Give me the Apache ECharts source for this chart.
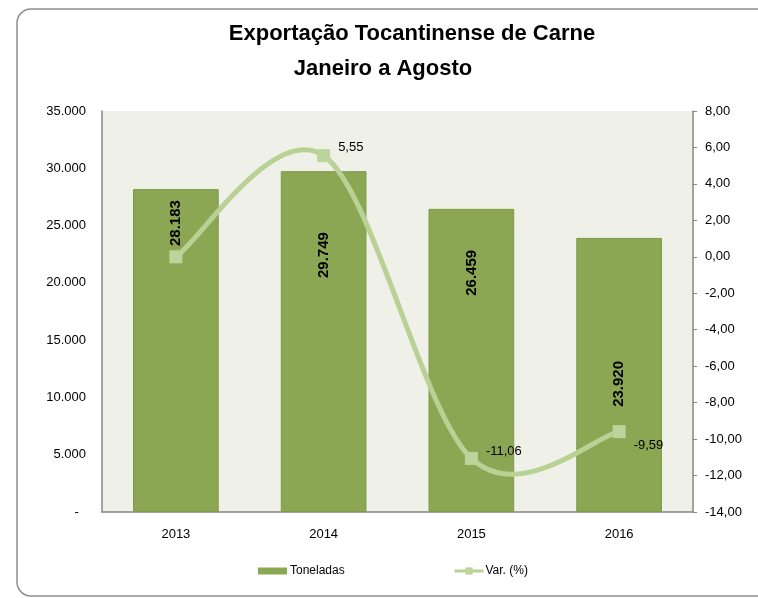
<!DOCTYPE html>
<html>
<head>
<meta charset="utf-8">
<script src="https://cdn.jsdelivr.net/npm/echarts@6/dist/echarts.min.js"></script>
<style>
  html, body { margin: 0; padding: 0; background: #fff; }
  #chart { width: 758px; height: 598px; }
</style>
</head>
<body>
<div id="chart"></div>
<script>
// dados do grafico
var anos = ['2013', '2014', '2015', '2016'];
var toneladas = [28183, 29749, 26459, 23920];
var variacao = [0.00, 5.55, -11.06, -9.59];

var FONT = '"Liberation Sans", Arial, sans-serif';
var corBarra = '#8BA753';
var corLinha = '#B9D194';

// distancia do rotulo ao topo da barra (como no Excel)
var distRotulo = [11, 61, 41, 123];
// deslocamento dos rotulos da linha
var offRotulo = [null, [0, -8], [0, -7], [0, 14]];

function fmtMil(v) {
    if (v === 0) return '-  ';
    return String(v).replace(/\B(?=(\d{3})+(?!\d))/g, '.');
}
function fmtVar(v) {
    return v.toFixed(2).replace('.', ',');
}

var barData = toneladas.map(function (v, i) {
    return { value: v, label: { distance: distRotulo[i] } };
});
var lineData = variacao.map(function (v, i) {
    if (!offRotulo[i]) return { value: v, label: { show: false } };
    return { value: v, label: { show: true, offset: offRotulo[i] } };
});

// curva suavizada tipo Excel (Catmull-Rom) desenhada segmento a segmento
function curvaExcel(params, api) {
    var i = params.dataIndex;
    var n = variacao.length;
    if (i >= n - 1) return null;
    function pt(k) {
        k = Math.max(0, Math.min(n - 1, k));
        return api.coord([k, variacao[k]]);
    }
    var p0 = pt(i - 1), p1 = pt(i), p2 = pt(i + 1), p3 = pt(i + 2);
    return {
        type: 'bezierCurve',
        shape: {
            x1: p1[0], y1: p1[1],
            cpx1: p1[0] + (p2[0] - p0[0]) / 6, cpy1: p1[1] + (p2[1] - p0[1]) / 6,
            cpx2: p2[0] - (p3[0] - p1[0]) / 6, cpy2: p2[1] - (p3[1] - p1[1]) / 6,
            x2: p2[0], y2: p2[1]
        },
        style: { fill: null, stroke: corLinha, lineWidth: 5, lineCap: 'round' }
    };
}

var chart = echarts.init(document.getElementById('chart'));
var option = {
    backgroundColor: '#fff',
    animation: false,
    title: [
        { text: 'Exportação Tocantinense de Carne', left: 407, top: 18, textAlign: 'center',
          textStyle: { fontFamily: FONT, fontSize: 22, fontWeight: 'bold', color: '#000' } },
        { text: 'Janeiro a Agosto', left: 378, top: 53, textAlign: 'center',
          textStyle: { fontFamily: FONT, fontSize: 22, fontWeight: 'bold', color: '#000' } }
    ],
    graphic: [{
        type: 'rect',
        shape: { x: 17, y: 9, width: 800, height: 587, r: 14 },
        style: { fill: 'none', stroke: '#8e8e8e', lineWidth: 1.5 },
        z: 100
    }],
    legend: [
        { data: [{ name: 'Toneladas', icon: 'rect' }], left: 258, top: 565, padding: 0,
          itemWidth: 29, itemHeight: 7, itemGap: 0,
          itemStyle: { borderWidth: 0 },
          textStyle: { fontFamily: FONT, fontSize: 12, color: '#000', padding: [0, 0, 0, -2] } },
        { data: ['Var. (%)'], left: 453, top: 565, padding: 0,
          itemWidth: 29, itemHeight: 9, itemGap: 0,
          lineStyle: { color: corLinha, width: 3, opacity: 1 },
          textStyle: { fontFamily: FONT, fontSize: 12, color: '#000', padding: [0, 0, 0, -3] } }
    ],
    grid: { left: 102, right: 65, top: 111, bottom: 86, show: true,
            backgroundColor: '#EFF1E9', borderWidth: 0 },
    xAxis: {
        type: 'category',
        data: anos,
        axisLine: { lineStyle: { color: '#878787', width: 1.5 } },
        axisTick: { show: false },
        axisLabel: { fontFamily: FONT, fontSize: 13, color: '#000', margin: 16 }
    },
    yAxis: [{
        type: 'value', min: 0, max: 35000, interval: 5000,
        axisLine: { show: true, lineStyle: { color: '#878787', width: 1.5 } },
        axisTick: { show: false },
        splitLine: { show: false },
        axisLabel: { fontFamily: FONT, fontSize: 13, color: '#000', margin: 16, formatter: fmtMil }
    }, {
        type: 'value', min: -14, max: 8, interval: 2,
        axisLine: { show: true, lineStyle: { color: '#878787', width: 1.5 } },
        axisTick: { show: true, length: 4, lineStyle: { color: '#878787' } },
        splitLine: { show: false },
        axisLabel: { fontFamily: FONT, fontSize: 13, color: '#000', margin: 12, formatter: fmtVar }
    }],
    series: [{
        name: 'Toneladas',
        type: 'bar',
        data: barData,
        barWidth: '58%',
        itemStyle: { color: corBarra, borderColor: '#7E9A48', borderWidth: 1 },
        label: {
            show: true, position: 'insideTop', rotate: 90,
            align: 'right', verticalAlign: 'middle',
            fontFamily: FONT, fontSize: 15, fontWeight: 'bold', color: '#000',
            formatter: function (p) { return fmtMil(p.value); }
        }
    }, {
        name: 'curva',
        type: 'custom',
        yAxisIndex: 1,
        data: variacao.map(function (v, i) { return [i, v]; }),
        renderItem: curvaExcel,
        silent: true,
        z: 4
    }, {
        name: 'Var. (%)',
        type: 'line',
        yAxisIndex: 1,
        data: lineData,
        symbol: 'rect',
        symbolSize: 13,
        lineStyle: { color: corLinha, width: 0, opacity: 0 },
        itemStyle: { color: '#BCD39B' },
        label: {
            position: 'right', distance: 8,
            fontFamily: FONT, fontSize: 13, color: '#000',
            formatter: function (p) { return fmtVar(p.value); }
        },
        z: 5
    }]
};
chart.setOption(option);
</script>
</body>
</html>
